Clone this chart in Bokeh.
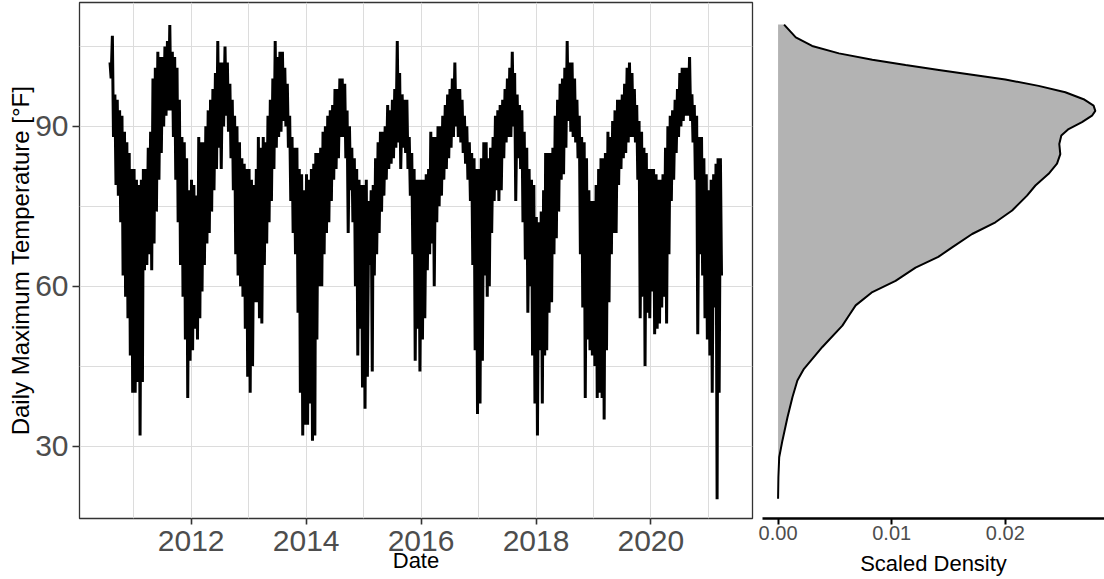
import pandas as pd
from bokeh.plotting import figure
from bokeh.layouts import row
from bokeh.models import FixedTicker, CustomJSTickFormatter, Range1d
from bokeh.embed import file_html
from bokeh.resources import INLINE

# Daily maximum temperature (°F): highest and lowest reading in each half-month.
# 2010 starts with the first half of August, 2021 ends with the second half of March.
high_2010 = [102, 107, 96, 95, 93, 92, 89, 87, 85, 82]
low_2010 = [99, 88, 79, 77, 72, 62, 58, 54, 47, 40]
high_2011 = [82, 80, 79, 80, 82, 82, 86, 89, 99, 101, 104, 103, 103, 105, 106, 109, 104, 103, 101, 95, 88, 87, 84, 78]
low_2011 = [40, 42, 32, 42, 63, 64, 66, 63, 68, 74, 80, 85, 90, 92, 93, 93, 88, 80, 72, 64, 58, 50, 39, 46]
high_2012 = [80, 79, 77, 88, 87, 87, 90, 93, 95, 97, 100, 106, 102, 102, 105, 102, 98, 95, 92, 90, 87, 84, 83, 82]
low_2012 = [48, 52, 50, 54, 59, 64, 68, 70, 74, 78, 82, 86, 82, 90, 92, 89, 84, 78, 66, 62, 60, 58, 52, 43]
high_2013 = [82, 80, 79, 82, 88, 86, 88, 87, 92, 95, 99, 106, 103, 104, 104, 101, 98, 92, 88, 86, 86, 82, 81, 78]
low_2013 = [40, 45, 57, 57, 54, 53, 64, 68, 72, 76, 82, 86, 88, 89, 91, 90, 86, 76, 70, 66, 55, 40, 32, 34]
high_2014 = [81, 80, 82, 83, 85, 85, 86, 89, 90, 92, 93, 94, 97, 97, 99, 99, 98, 93, 90, 86, 84, 82, 80, 79]
low_2014 = [34, 38, 31, 32, 50, 60, 60, 66, 70, 72, 76, 80, 82, 84, 88, 88, 84, 70, 78, 72, 60, 47, 52, 41]
high_2015 = [79, 80, 76, 78, 79, 84, 87, 89, 89, 90, 94, 93, 95, 97, 106, 100, 96, 95, 95, 88, 85, 82, 80, 80]
low_2015 = [37, 43, 64, 44, 62, 66, 70, 74, 77, 80, 82, 83, 84, 86, 87, 82, 86, 85, 82, 77, 66, 46, 52, 44]
high_2016 = [80, 80, 81, 82, 89, 88, 88, 90, 90, 92, 94, 96, 97, 99, 102, 97, 97, 95, 92, 90, 87, 85, 84, 82]
low_2016 = [50, 54, 63, 66, 68, 60, 72, 75, 77, 80, 82, 84, 86, 88, 90, 88, 87, 85, 83, 80, 76, 64, 48, 36]
high_2017 = [82, 84, 87, 87, 84, 86, 88, 92, 93, 94, 95, 97, 99, 101, 104, 100, 96, 94, 93, 89, 86, 82, 80, 79]
low_2017 = [38, 46, 62, 58, 60, 70, 76, 78, 76, 78, 84, 87, 88, 88, 90, 76, 84, 82, 72, 65, 55, 60, 47, 38]
high_2018 = [73, 72, 74, 78, 85, 85, 85, 86, 92, 95, 98, 99, 101, 106, 102, 102, 99, 95, 92, 88, 87, 84, 78, 76]
low_2018 = [32, 48, 38, 47, 48, 55, 57, 66, 69, 74, 80, 81, 86, 91, 89, 88, 87, 84, 66, 56, 39, 50, 48, 47]
high_2019 = [76, 79, 82, 84, 84, 85, 89, 88, 91, 93, 95, 95, 96, 98, 101, 102, 100, 97, 94, 91, 89, 86, 85, 82]
low_2019 = [45, 39, 40, 39, 35, 48, 57, 66, 70, 70, 79, 82, 84, 85, 87, 88, 88, 87, 80, 54, 58, 45, 55, 54]
high_2020 = [82, 82, 81, 80, 80, 81, 86, 90, 92, 93, 95, 97, 100, 101, 101, 101, 103, 96, 94, 92, 88, 88, 84, 81]
low_2020 = [59, 51, 52, 53, 56, 58, 53, 66, 76, 80, 85, 88, 90, 91, 92, 92, 91, 87, 80, 51, 66, 62, 54, 50]
high_2021 = [78, 80, 81, 83, 84, 84]
low_2021 = [47, 40, 56, 20, 40, 62]

# Scaled density of the daily maxima, sampled along the temperature axis
density_temp = [20.1, 24.2, 27.9, 31.1, 35.4, 39.2, 42.3, 44.5, 48.6, 52.6, 54.5, 56.4,
                58.9, 61.0, 63.5, 65.5, 67.3, 69.8, 72.0, 74.2, 77.0, 78.9, 81.1, 83.0,
                84.8, 86.7, 88.3, 89.5, 90.8, 92.0, 92.9, 93.9, 95.1, 96.4, 97.6, 98.8,
                99.7, 100.6, 101.5, 102.5, 103.7, 105.1, 106.7, 109.1]
density_value = [0.0, 0.00003, 0.0001, 0.00039, 0.00083, 0.00127, 0.0017, 0.00228, 0.0039,
                 0.00566, 0.00624, 0.00683, 0.0083, 0.01034, 0.0121, 0.0141, 0.01532, 0.01708,
                 0.01913, 0.0206, 0.02191, 0.02265, 0.02381, 0.02455, 0.02484, 0.02475,
                 0.02493, 0.02557, 0.02675, 0.02763, 0.02792, 0.02777, 0.02689, 0.02528,
                 0.02293, 0.0200, 0.01708, 0.01415, 0.01122, 0.0083, 0.00536, 0.0030,
                 0.00156, 0.00053]

year_ticks = [2012, 2014, 2016, 2018, 2020]
year_minor = [2011, 2013, 2015, 2017, 2019, 2021]
temp_ticks = [30, 60, 90]
temp_minor = [15, 45, 75, 105]
density_ticks = [0.0, 0.01, 0.02]

series = [
    (2010, 8, high_2010, low_2010),
    (2011, 1, high_2011, low_2011),
    (2012, 1, high_2012, low_2012),
    (2013, 1, high_2013, low_2013),
    (2014, 1, high_2014, low_2014),
    (2015, 1, high_2015, low_2015),
    (2016, 1, high_2016, low_2016),
    (2017, 1, high_2017, low_2017),
    (2018, 1, high_2018, low_2018),
    (2019, 1, high_2019, low_2019),
    (2020, 1, high_2020, low_2020),
    (2021, 1, high_2021, low_2021),
]

dates, temps = [], []
for year, first_month, highs, lows in series:
    for k, (h, l) in enumerate(zip(highs, lows)):
        month = first_month + k // 2
        day0 = 1 if k % 2 == 0 else 16
        dates.append(pd.Timestamp(year, month, day0 + 2))
        temps.append(h)
        dates.append(pd.Timestamp(year, month, day0 + 9))
        temps.append(l)


def ms(year):
    return pd.Timestamp(year, 1, 1).value / 1e6


FONT = "Liberation Sans"
GRID = "#dcdcdc"
TICK_GREY = "#4d4d4d"
y_range = Range1d(16.4, 113.25)

# ---- time series panel ----
p = figure(width=755, height=579, x_axis_type="datetime",
           x_range=Range1d(pd.Timestamp(2010, 1, 21), pd.Timestamp(2021, 10, 8)),
           y_range=y_range, output_backend="svg", toolbar_location=None,
           min_border_left=79, min_border_right=3, min_border_top=2, min_border_bottom=61)
p.line(dates, temps, line_color="black", line_width=3, line_join="miter")

p.outline_line_color = "#333333"
p.outline_line_width = 1.3
p.background_fill_color = "white"
p.border_fill_color = "white"

p.xaxis.ticker = FixedTicker(ticks=[ms(y) for y in year_ticks], minor_ticks=[ms(y) for y in year_minor])
p.xaxis.formatter = CustomJSTickFormatter(code="return String(new Date(tick).getUTCFullYear());")
p.yaxis.ticker = FixedTicker(ticks=temp_ticks, minor_ticks=temp_minor)

for ax in (p.xaxis[0], p.yaxis[0]):
    ax.axis_line_color = None
    ax.major_tick_line_color = "#333333"
    ax.major_tick_line_width = 1.6
    ax.major_tick_in = 0
    ax.minor_tick_line_color = None
    ax.major_label_text_font = FONT
    ax.major_label_text_font_size = "30px"
    ax.major_label_text_color = TICK_GREY
    ax.axis_label_text_font = FONT
    ax.axis_label_text_font_style = "normal"
    ax.axis_label_text_color = "black"

p.xaxis.major_tick_out = 6
p.xaxis.major_label_standoff = 6
p.xaxis.axis_label = "Date"
p.xaxis.axis_label_text_font_size = "22px"
p.xaxis.axis_label_standoff = -6

p.yaxis.major_tick_out = 7
p.yaxis.major_label_standoff = 4
p.yaxis.axis_label = "Daily Maximum Temperature [°F]"
p.yaxis.axis_label_text_font_size = "24px"
p.yaxis.axis_label_standoff = -2

for g in (p.xgrid[0], p.ygrid[0]):
    g.grid_line_color = GRID
    g.grid_line_width = 1
    g.minor_grid_line_color = GRID
    g.minor_grid_line_width = 1
p.xgrid.ticker = p.xaxis.ticker
p.ygrid.ticker = p.yaxis.ticker

# ---- density panel ----
d = figure(width=349, height=579, x_range=Range1d(-0.00137, 0.02873), y_range=y_range,
           y_axis_location=None, output_backend="svg", toolbar_location=None,
           min_border_left=7, min_border_right=0, min_border_top=2, min_border_bottom=61)
d.harea(x1=0, x2=density_value, y=density_temp, fill_color="#b3b3b3")
d.line(density_value, density_temp, line_color="black", line_width=2)
d.outline_line_color = None
d.grid.grid_line_color = None
d.background_fill_color = "white"
d.border_fill_color = "white"

dx = d.xaxis[0]
dx.ticker = FixedTicker(ticks=density_ticks, minor_ticks=[])
dx.formatter = CustomJSTickFormatter(code="return tick.toFixed(2);")
dx.axis_line_color = "black"
dx.axis_line_width = 2.5
dx.major_tick_line_color = "black"
dx.major_tick_line_width = 2
dx.major_tick_out = 6
dx.major_tick_in = 0
dx.minor_tick_line_color = None
dx.major_label_text_font = FONT
dx.major_label_text_font_size = "20px"
dx.major_label_text_color = TICK_GREY
dx.major_label_standoff = 1
dx.axis_label = "Scaled Density"
dx.axis_label_text_font = FONT
dx.axis_label_text_font_size = "22px"
dx.axis_label_text_font_style = "normal"
dx.axis_label_text_color = "black"
dx.axis_label_standoff = 8

layout = row(p, d, spacing=0)
open("out.html", "w").write(file_html(layout, INLINE))
